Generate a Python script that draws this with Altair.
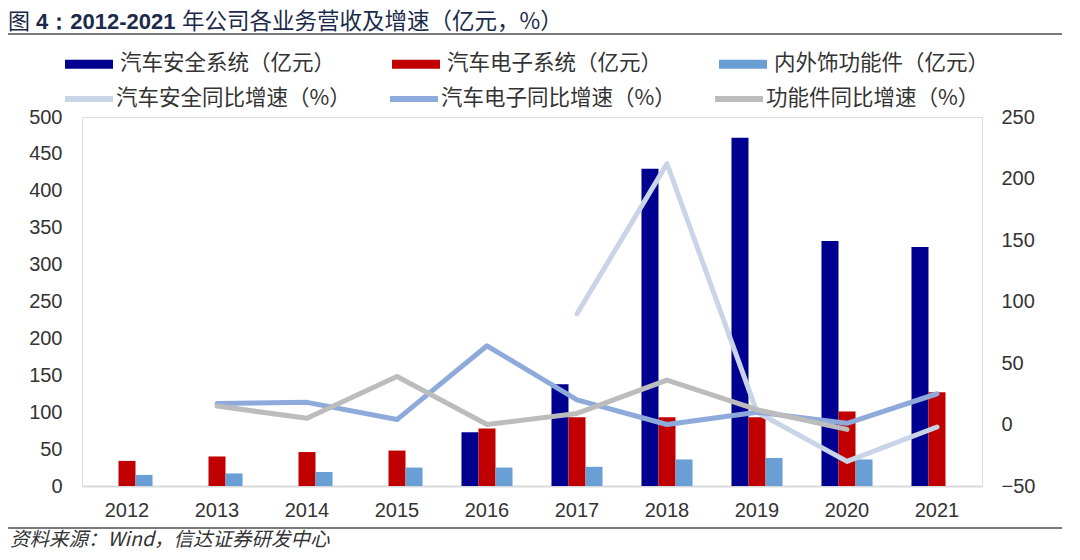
import altair as alt
import pandas as pd

years = ["2012", "2013", "2014", "2015", "2016", "2017", "2018", "2019", "2020", "2021"]

# revenue, 亿元 (left axis)
safety_rev = [None, None, None, None, 73, 138, 430, 472, 332, 324]
elec_rev = [34, 40, 46, 48, 78, 93, 93, 93, 101, 127]
trim_rev = [15, 17, 19, 25, 25, 26, 36, 38, 36, None]

# growth, % (right axis)
safety_g = [None, None, None, None, None, 90, 212, 10, -30, -2]
elec_g = [None, 17, 18, 4, 64, 20, 0, 10, 1, 25]
func_g = [None, 15, 5, 39, 0, 9, 36, 12, -4, None]

bar_names = ["汽车安全系统（亿元）", "汽车电子系统（亿元）", "内外饰功能件（亿元）"]
bar_colors = ["#000090", "#c00000", "#6a9fd6"]
line_names = ["汽车安全同比增速（%）", "汽车电子同比增速（%）", "功能件同比增速（%）"]
line_colors = ["#c9d5e7", "#8eaadb", "#bcbcbc"]

rev_rows = []
for name, vals in zip(bar_names, [safety_rev, elec_rev, trim_rev]):
    for y, v in zip(years, vals):
        if v is not None:
            rev_rows.append({"year": y, "series": name, "value": v})
rev_df = pd.DataFrame(rev_rows)

g_rows = []
for name, vals in zip(line_names, [safety_g, elec_g, func_g]):
    for y, v in zip(years, vals):
        if v is not None:
            g_rows.append({"year": y, "series": name, "value": v})
g_df = pd.DataFrame(g_rows)

AX_FONT = "Liberation Sans"
CJK = "Noto Sans CJK SC"
TXT = "#333333"
W, H = 900, 369

x_scale = alt.Scale(domain=years, paddingInner=0.433, paddingOuter=0.2165)

bars = alt.Chart(rev_df).mark_bar().encode(
    x=alt.X("year:N", scale=x_scale, sort=years, title=None,
            axis=alt.Axis(labelAngle=0, ticks=False, domain=True, domainColor="#d9d9d9", domainWidth=2,
                          grid=False, labelFont=AX_FONT, labelFontSize=20, labelColor=TXT,
                          labelPadding=14)),
    xOffset=alt.XOffset("series:N", sort=bar_names, scale=alt.Scale(domain=bar_names, paddingInner=0, paddingOuter=0)),
    y=alt.Y("value:Q", scale=alt.Scale(domain=[0, 500], nice=False), title=None,
            axis=alt.Axis(values=list(range(0, 501, 50)), grid=False, domain=False, ticks=False,
                          labelFont=AX_FONT, labelFontSize=20, labelColor=TXT, labelPadding=20)),
    color=alt.Color("series:N", sort=bar_names,
                    scale=alt.Scale(domain=bar_names, range=bar_colors),
                    legend=alt.Legend(orient="none", legendX=-17, legendY=-77, direction="horizontal",
                                      columns=3, gridAlign="all", columnPadding=56, title=None,
                                      symbolType="M-1,-0.19H1V0.19H-1Z", symbolSize=2304,
                                      symbolStrokeWidth=0, labelOffset=7,
                                      labelFont=CJK, labelFontSize=21.5, labelColor=TXT,
                                      labelLimit=400, padding=0)),
)

lines = alt.Chart(g_df).mark_line(strokeWidth=5, strokeCap="round", strokeJoin="round").encode(
    x=alt.X("year:N", scale=x_scale, sort=years, title=None),
    y=alt.Y("value:Q", scale=alt.Scale(domain=[-50, 250], nice=False), title=None,
            axis=alt.Axis(orient="right", values=list(range(-50, 251, 50)), grid=False, domain=False,
                          ticks=False, labelFont=AX_FONT, labelFontSize=20, labelColor=TXT,
                          labelPadding=19)),
    stroke=alt.Stroke("series:N", sort=line_names,
                      scale=alt.Scale(domain=line_names, range=line_colors),
                      legend=alt.Legend(orient="none", legendX=-20, legendY=-45, direction="horizontal",
                                        columns=3, gridAlign="all", columnPadding=27, title=None,
                                        symbolType="stroke", symbolSize=2304, symbolStrokeWidth=6,
                                        labelOffset=0, labelFont=CJK, labelFontSize=21.5,
                                        labelColor=TXT, labelLimit=400, padding=0)),
)

one = alt.Data(values=[{}])
TITLE_C = "#1b2a4a"

t1 = alt.Chart(one).mark_text(text="图", align="left", baseline="middle", font=CJK,
                               fontSize=22, color=TITLE_C).encode(x=alt.value(-74), y=alt.value(-95))
t2 = alt.Chart(one).mark_text(text="4：2012-2021", align="left", baseline="middle", font=AX_FONT,
                               fontSize=22, fontWeight="bold", color=TITLE_C).encode(
    x=alt.value(-46), y=alt.value(-95))
t3 = alt.Chart(one).mark_text(text="年公司各业务营收及增速（亿元，%）", align="left", baseline="middle",
                               font=CJK, fontSize=22.5, color=TITLE_C).encode(
    x=alt.value(100), y=alt.value(-95))
top_rule = alt.Chart(one).mark_rule(color="#7a7a7a", strokeWidth=2).encode(
    x=alt.value(-74), x2=alt.value(982), y=alt.value(-83))
bot_rule = alt.Chart(one).mark_rule(color="#7a7a7a", strokeWidth=2).encode(
    x=alt.value(-74), x2=alt.value(982), y=alt.value(411))
src = alt.Chart(one).mark_text(text="资料来源：Wind，信达证券研发中心", align="left", baseline="middle",
                                font=CJK, fontSize=19.5, fontStyle="italic", color=TXT).encode(
    x=alt.value(-72), y=alt.value(423))

chart = alt.layer(bars, lines, t1, t2, t3, top_rule, bot_rule, src).resolve_scale(
    y="independent"
).properties(
    width=W, height=H,
    autosize=alt.AutoSizeParams(type="none"),
    padding={"left": 74, "top": 109, "right": 80, "bottom": 66},
).configure_view(stroke="transparent", strokeWidth=0).configure_axis(
    domain=False, grid=False, ticks=False
).configure_axisX(domainColor="#d9d9d9").configure(background="white")

chart.save("out.html", embed_options={"renderer": "svg", "actions": False})
